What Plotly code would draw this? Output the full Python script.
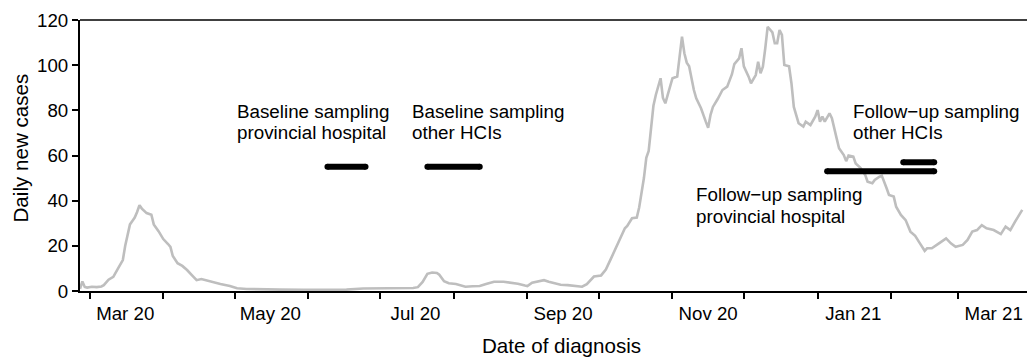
import plotly.graph_objects as go

# ---- data ----
dates = [
    "2020-02-26", "2020-02-27", "2020-02-28", "2020-02-29", "2020-03-02", "2020-03-04",
    "2020-03-06", "2020-03-07", "2020-03-09", "2020-03-11", "2020-03-13", "2020-03-15",
    "2020-03-16", "2020-03-17", "2020-03-18", "2020-03-19", "2020-03-20", "2020-03-21",
    "2020-03-22", "2020-03-23", "2020-03-25", "2020-03-27", "2020-03-28", "2020-03-30",
    "2020-04-01", "2020-04-03", "2020-04-04", "2020-04-05", "2020-04-07", "2020-04-09",
    "2020-04-11", "2020-04-13", "2020-04-15", "2020-04-17", "2020-04-21", "2020-04-25",
    "2020-04-29", "2020-05-02", "2020-05-06", "2020-05-12", "2020-05-20", "2020-05-30",
    "2020-06-09", "2020-06-17", "2020-06-24", "2020-07-01", "2020-07-09", "2020-07-15",
    "2020-07-17", "2020-07-19", "2020-07-21", "2020-07-23", "2020-07-25", "2020-07-26",
    "2020-07-28", "2020-07-30", "2020-08-02", "2020-08-04", "2020-08-06", "2020-08-09",
    "2020-08-12", "2020-08-15", "2020-08-18", "2020-08-22", "2020-08-25", "2020-08-28",
    "2020-08-31", "2020-09-01", "2020-09-03", "2020-09-06", "2020-09-08", "2020-09-10",
    "2020-09-12", "2020-09-15", "2020-09-18", "2020-09-21", "2020-09-24", "2020-09-26",
    "2020-09-29", "2020-10-02", "2020-10-04", "2020-10-06", "2020-10-09", "2020-10-12",
    "2020-10-13", "2020-10-15", "2020-10-17", "2020-10-18", "2020-10-20", "2020-10-21",
    "2020-10-22", "2020-10-23", "2020-10-24", "2020-10-25", "2020-10-27", "2020-10-28",
    "2020-10-29", "2020-10-30", "2020-11-01", "2020-11-03", "2020-11-04", "2020-11-05",
    "2020-11-06", "2020-11-07", "2020-11-08", "2020-11-09", "2020-11-10", "2020-11-11",
    "2020-11-13", "2020-11-15", "2020-11-16", "2020-11-17", "2020-11-18", "2020-11-20",
    "2020-11-22", "2020-11-24", "2020-11-25", "2020-11-26", "2020-11-27", "2020-11-29",
    "2020-11-30", "2020-12-01", "2020-12-03", "2020-12-04", "2020-12-06", "2020-12-07",
    "2020-12-08", "2020-12-09", "2020-12-10", "2020-12-11", "2020-12-13", "2020-12-14",
    "2020-12-15", "2020-12-16", "2020-12-17", "2020-12-18", "2020-12-20", "2020-12-21",
    "2020-12-22", "2020-12-24", "2020-12-26", "2020-12-27", "2020-12-29", "2020-12-31",
    "2021-01-01", "2021-01-02", "2021-01-03", "2021-01-04", "2021-01-06", "2021-01-07",
    "2021-01-09", "2021-01-10", "2021-01-12", "2021-01-13", "2021-01-14", "2021-01-16",
    "2021-01-17", "2021-01-19", "2021-01-21", "2021-01-22", "2021-01-24", "2021-01-25",
    "2021-01-27", "2021-01-28", "2021-01-30", "2021-01-31", "2021-02-02", "2021-02-03",
    "2021-02-05", "2021-02-07", "2021-02-09", "2021-02-11", "2021-02-13", "2021-02-15",
    "2021-02-16", "2021-02-18", "2021-02-21", "2021-02-24", "2021-02-26", "2021-02-28",
    "2021-03-03", "2021-03-05", "2021-03-07", "2021-03-09", "2021-03-11", "2021-03-13",
    "2021-03-16", "2021-03-19", "2021-03-21", "2021-03-23", "2021-03-25", "2021-03-28",
]
cases = [
    1.0, 4.2, 1.8, 1.5, 1.9, 1.7,
    2.0, 2.6, 5.0, 6.3, 10.0, 13.7,
    20.0, 25.5, 29.5, 31.0, 32.5, 35.0,
    38.0, 36.5, 34.5, 33.8, 29.5, 26.5,
    23.0, 20.8, 19.5, 15.5, 12.3, 11.1,
    9.3, 7.0, 4.8, 5.3, 4.1, 3.1,
    2.2, 1.2, 0.9, 0.7, 0.6, 0.5,
    0.5, 0.6, 1.1, 1.2, 1.4, 1.3,
    1.7, 4.0, 7.6, 8.2, 8.0, 7.2,
    4.3, 3.4, 3.1, 2.5, 1.9, 2.1,
    2.2, 3.2, 4.1, 4.1, 3.8, 3.2,
    2.4, 2.2, 3.7, 4.3, 4.8, 4.1,
    3.7, 2.8, 2.6, 2.4, 1.9, 3.0,
    6.4, 6.9, 9.5, 14.0, 21.0, 27.8,
    28.8, 32.2, 32.5, 37.0, 50.0, 59.0,
    62.0, 72.0, 82.0, 86.8, 94.2, 85.5,
    83.1, 86.8, 94.2, 95.0, 104.0, 112.6,
    105.3, 101.1, 99.5, 94.0, 89.0, 85.3,
    80.9, 75.0, 72.3, 78.0, 81.5, 85.0,
    89.0, 90.5, 93.4, 96.0, 100.5, 103.0,
    107.5, 99.5, 94.9, 92.0, 95.6, 101.5,
    96.4, 99.3, 107.5, 117.0, 114.5, 109.7,
    109.7, 115.6, 113.4, 100.1, 99.5, 92.0,
    81.5, 74.3, 72.8, 75.0, 73.5, 77.2,
    80.1, 75.0, 77.2, 75.0, 78.7, 76.5,
    67.6, 63.2, 60.2, 57.5, 60.0, 59.5,
    56.5, 54.5, 51.4, 48.4, 47.7, 49.2,
    50.6, 51.0, 45.5, 42.5, 41.8, 37.3,
    33.7, 31.4, 26.3, 24.4, 21.1, 17.8,
    18.9, 18.9, 21.1, 23.3, 21.1, 19.6,
    20.4, 22.6, 26.3, 27.0, 29.2, 27.8,
    27.0, 25.2, 28.5, 27.0, 30.7, 35.9,
]

# sampling periods
period_start = ["2020-06-09", "2020-07-21", "2021-01-05", "2021-02-06"]
period_end = ["2020-06-25", "2020-08-12", "2021-02-19", "2021-02-19"]
period_level = [55, 55, 53, 57]

# axis ticks
month_ticks = ["2020-03-01", "2020-04-01", "2020-05-01", "2020-06-01", "2020-07-01",
               "2020-08-01", "2020-09-01", "2020-10-01", "2020-11-01", "2020-12-01",
               "2021-01-01", "2021-02-01", "2021-03-01"]
label_dates = ["2020-03-16", "2020-05-16", "2020-07-16", "2020-09-16",
               "2020-11-16", "2021-01-16", "2021-03-16"]
label_text = ["Mar 20", "May 20", "Jul 20", "Sep 20", "Nov 20", "Jan 21", "Mar 21"]
y_ticks = [0, 20, 40, 60, 80, 100, 120]

FONT = "Liberation Sans, Arial, sans-serif"

fig = go.Figure()
fig.add_trace(go.Scatter(x=dates, y=cases, mode="lines",
                         line=dict(color="#BEBEBE", width=2.6), hoverinfo="skip",
                         showlegend=False))
for s, e, lv in zip(period_start, period_end, period_level):
    fig.add_trace(go.Scatter(x=[s, e], y=[lv, lv], mode="lines+markers",
                             line=dict(color="black", width=6),
                             marker=dict(color="black", size=6),
                             showlegend=False, hoverinfo="skip"))

W, H = 1027, 357
L, R, T, B = 80, 0, 20, 66
pw, ph = W - L - R, H - T - B

def px(xp):
    return (xp - L) / pw

def py(yp):
    return (T + ph - yp) / ph

annots = [
    ("Baseline sampling", 235, 111), ("provincial hospital", 235, 132.5),
    ("Baseline sampling", 410, 111), ("other HCIs", 410, 132.5),
    ("Follow\u2212up sampling", 850.5, 111), ("other HCIs", 850.5, 132.5),
    ("Follow\u2212up sampling", 694, 194.5), ("provincial hospital", 694, 216.5),
]
for txt, xp, yp in annots:
    fig.add_annotation(text=txt, xref="paper", yref="paper", x=px(xp), y=py(yp),
                       xanchor="left", yanchor="middle", showarrow=False,
                       font=dict(family=FONT, size=18.8, color="black"))

fig.add_annotation(text="Date of diagnosis", xref="paper", yref="paper",
                   x=px(561.7), y=py(345.5), xanchor="center", yanchor="middle",
                   showarrow=False, font=dict(family=FONT, size=20.6, color="black"))
fig.add_annotation(text="Daily new cases", xref="paper", yref="paper",
                   x=px(20), y=py(148.5), xanchor="center", yanchor="middle",
                   textangle=-90, showarrow=False,
                   font=dict(family=FONT, size=20.6, color="black"))

fig.add_shape(type="line", xref="paper", yref="paper", x0=0, x1=1, y0=1, y1=1,
              line=dict(color="black", width=1.3))

fig.update_layout(
    width=W, height=H,
    margin=dict(l=L, r=R, t=T, b=B, pad=0),
    paper_bgcolor="white", plot_bgcolor="white",
    font=dict(family=FONT, size=18.7, color="black"),
    xaxis=dict(
        type="date", range=["2020-02-26", "2021-03-30"],
        tickmode="array", tickvals=label_dates, ticktext=label_text,
        ticks="", showgrid=False, zeroline=False,
        showline=True, linecolor="black", linewidth=2,
        ticklabelstandoff=5,
        minor=dict(tickmode="array", tickvals=month_ticks, ticks="outside",
                   ticklen=6, tickwidth=2, tickcolor="black", showgrid=False),
    ),
    yaxis=dict(
        range=[0, 120], tickmode="array", tickvals=y_ticks,
        ticks="outside", ticklen=6, tickwidth=2, tickcolor="black",
        showgrid=False, zeroline=False,
        showline=True, linecolor="black", linewidth=2,
    ),
)

fig.write_html("out.html", config={"displayModeBar": False},
               post_script="document.body.style.margin='0';document.body.style.overflow='hidden';")
